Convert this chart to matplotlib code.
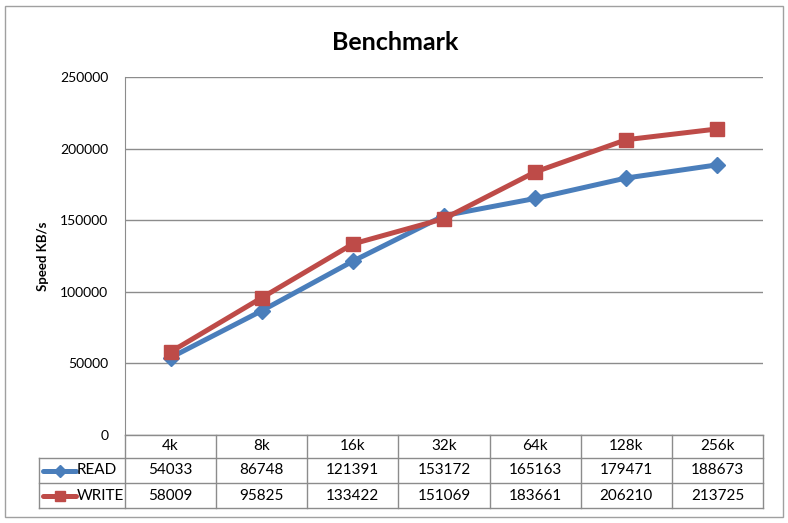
import matplotlib
matplotlib.use("Agg")
import matplotlib.pyplot as plt
from matplotlib.patches import Rectangle
from matplotlib.transforms import blended_transform_factory
import numpy as np

plt.rcParams['font.family'] = ['Lato', 'DejaVu Sans']

# data
block_sizes = ["4k", "8k", "16k", "32k", "64k", "128k", "256k"]
read_speed = [54033, 86748, 121391, 153172, 165163, 179471, 188673]
write_speed = [58009, 95825, 133422, 151069, 183661, 206210, 213725]
series_names = ["READ", "WRITE"]
y_ticks = [0, 50000, 100000, 150000, 200000, 250000]

blue = "#4A7EBB"
red = "#BE4B48"
grid_col = "#8C8C8C"

W, H = 788, 523
fig = plt.figure(figsize=(W / 100, H / 100), dpi=100)

# plot area in pixels
left, right, top, bottom = 125, 763, 77, 435
ax = fig.add_axes([left / W, 1 - bottom / H, (right - left) / W, (bottom - top) / H])

n = len(block_sizes)
x = np.arange(n)
ax.plot(x, read_speed, color=blue, lw=3.6, marker="D", ms=8,
        markeredgecolor=blue, zorder=3)
ax.plot(x, write_speed, color=red, lw=3.6, marker="s", ms=9.5,
        markeredgecolor=red, zorder=3)

ax.set_xlim(-0.5, n - 0.5)
ax.set_ylim(0, 250000)
ax.set_yticks(y_ticks)
ax.set_yticklabels([str(t) for t in y_ticks], fontsize=10)
ax.set_xticks([])
ax.tick_params(axis="y", length=0, pad=12)
ax.grid(axis="y", color=grid_col, lw=1)
ax.set_axisbelow(True)
for s in ["top", "right", "bottom"]:
    ax.spines[s].set_visible(False)
ax.spines["left"].set_color(grid_col)

ax.set_ylabel("Speed KB/s", fontsize=9.5, fontweight="bold", labelpad=8)
fig.text(395 / W, 1 - 42 / H, "Benchmark", ha="center", va="center",
         fontsize=18, fontweight="bold")

# data table under the plot: x in data units, y in axes units
tr = blended_transform_factory(ax.transData, ax.transAxes)
ph = bottom - top
row_h = [(458 - 435) / ph, (483 - 458) / ph, (508 - 483) / ph]
y_lines = [0, -row_h[0], -row_h[0] - row_h[1], -sum(row_h)]
col_px = (right - left) / n
x_lab = -0.5 - (left - 39) / col_px
x_end = n - 0.5

line_kw = dict(color=grid_col, lw=1, transform=tr, clip_on=False)
ax.plot([-0.5, x_end], [y_lines[0]] * 2, **line_kw)
for yl in y_lines[1:]:
    ax.plot([x_lab, x_end], [yl] * 2, **line_kw)
for i in range(n + 1):
    ax.plot([i - 0.5] * 2, [y_lines[0], y_lines[3]], **line_kw)
ax.plot([x_lab] * 2, [y_lines[1], y_lines[3]], **line_kw)

txt_kw = dict(transform=tr, ha="center", va="center", fontsize=11, clip_on=False)
y_mid = [(y_lines[k] + y_lines[k + 1]) / 2 for k in range(3)]
for i, lab in enumerate(block_sizes):
    ax.text(i, y_mid[0], lab, **txt_kw)
for r, vals in enumerate([read_speed, write_speed]):
    for i, v in enumerate(vals):
        ax.text(i, y_mid[r + 1], str(v), **txt_kw)

# row labels with legend keys
px = 1 / col_px
for r, (name, col, mk, ms) in enumerate([(series_names[0], blue, "D", 6),
                                          (series_names[1], red, "s", 7.5)]):
    yk = y_mid[r + 1]
    x0 = x_lab + 4 * px
    x1 = x_lab + 37 * px
    ax.plot([x0, x1], [yk, yk], color=col, lw=3.6, transform=tr,
            clip_on=False, solid_capstyle="round")
    ax.plot([(x0 + x1) / 2], [yk], marker=mk, ms=ms, color=col,
            transform=tr, clip_on=False)
    ax.text(x1 + 1 * px, yk, name, transform=tr, ha="left", va="center",
            fontsize=11, clip_on=False)

# outer chart border
fig.patches.append(Rectangle((5 / W, 6 / H), 778 / W, 511 / H, transform=fig.transFigure,
                             fill=False, edgecolor="#A0A0A0", lw=1))

fig.savefig("out.png", dpi=100)
